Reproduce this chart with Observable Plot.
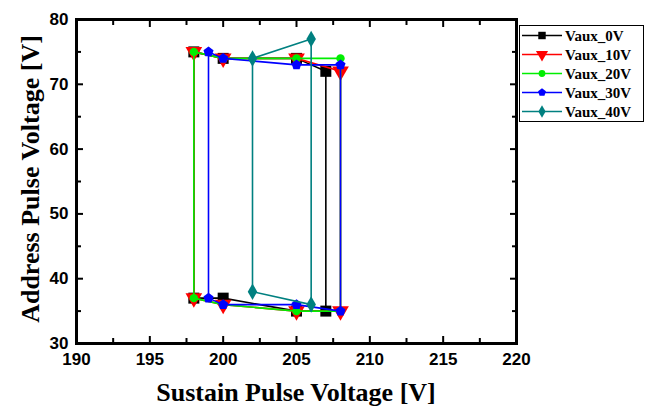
<!DOCTYPE html>
<html>
<head>
<meta charset="utf-8">
<script src="https://cdn.jsdelivr.net/npm/d3@7"></script>
<script src="https://cdn.jsdelivr.net/npm/@observablehq/plot@0.6"></script>
<style>
  body { margin: 0; background: #fff; }
  #chart { position: relative; width: 652px; height: 409px; }
</style>
</head>
<body>
<div id="chart"></div>
<script>
// ---- data ----
const seriesNames = ["Vaux_0V", "Vaux_10V", "Vaux_20V", "Vaux_30V", "Vaux_40V"];
const seriesColors = ["#000000", "#ff0000", "#00ee00", "#0000ff", "#008080"];

const sustainVaux0  = [198, 200, 205, 207, 207, 205, 200, 198];
const addressVaux0  = [75, 74, 74, 72, 35, 35, 37, 37];
const sustainVaux10 = [198, 200, 205, 208, 208, 205, 200, 198];
const addressVaux10 = [75, 74, 74, 72, 35, 35, 36, 37];
const sustainVaux20 = [198, 200, 205, 208, 208, 205, 200, 198];
const addressVaux20 = [75, 74, 74, 74, 35, 35, 36, 37];
const sustainVaux30 = [199, 200, 205, 208, 208, 205, 200, 199];
const addressVaux30 = [75, 74, 73, 73, 35, 36, 36, 37];
const sustainVaux40 = [202, 206, 206, 202];
const addressVaux40 = [74, 77, 36, 38];

const xMajorTicks = [190, 195, 200, 205, 210, 215, 220];
const xMinorTicks = [192.5, 197.5, 202.5, 207.5, 212.5, 217.5];
const yMajorTicks = [30, 40, 50, 60, 70, 80];
const yMinorTicks = [35, 45, 55, 65, 75];

const xTitle = "Sustain Pulse Voltage [V]";
const yTitle = "Address Pulse Voltage [V]";

// ---- build ----
const sustainAll = [sustainVaux0, sustainVaux10, sustainVaux20, sustainVaux30, sustainVaux40];
const addressAll = [addressVaux0, addressVaux10, addressVaux20, addressVaux30, addressVaux40];
const seriesData = seriesNames.map((name, i) =>
  sustainAll[i].map((s, j) => ({series: name, sustain: s, address: addressAll[i][j]})));

const pentagon = {
  draw(context, size) {
    const r = Math.sqrt(size / 2.3776);
    for (let k = 0; k < 5; ++k) {
      const a = -Math.PI / 2 + k * 2 * Math.PI / 5;
      const px = r * Math.cos(a), py = r * Math.sin(a);
      if (k === 0) context.moveTo(px, py); else context.lineTo(px, py);
    }
    context.closePath();
  }
};
const markerSpec = [
  {symbol: "square", r: 6.2, rotate: 0},
  {symbol: "triangle", r: 6.2, rotate: 180},
  {symbol: "circle", r: 4.2, rotate: 0},
  {symbol: pentagon, r: 4.6, rotate: 0},
  {symbol: "diamond", r: 5, rotate: 0}
];

const seriesMarks = [];
seriesData.forEach((rows, i) => {
  seriesMarks.push(Plot.line(rows, {x: "sustain", y: "address", curve: "linear-closed",
    stroke: seriesColors[i], strokeWidth: 1.6}));
  seriesMarks.push(Plot.dot(rows, {x: "sustain", y: "address", symbol: markerSpec[i].symbol,
    r: markerSpec[i].r, rotate: markerSpec[i].rotate, fill: seriesColors[i], stroke: "none"}));
});

// inward ticks on all four sides (negative tick size = inward)
const tickAxes = [];
for (const anchor of ["bottom", "top"]) {
  tickAxes.push(Plot.axisX(xMajorTicks, {anchor, tickSize: -7, fill: "none", label: null, stroke: "#000", strokeWidth: 2}));
  tickAxes.push(Plot.axisX(xMinorTicks, {anchor, tickSize: -5, fill: "none", label: null, stroke: "#000", strokeWidth: 2}));
}
for (const anchor of ["left", "right"]) {
  tickAxes.push(Plot.axisY(yMajorTicks, {anchor, tickSize: -7, fill: "none", label: null, stroke: "#000", strokeWidth: 2}));
  tickAxes.push(Plot.axisY(yMinorTicks, {anchor, tickSize: -5, fill: "none", label: null, stroke: "#000", strokeWidth: 2}));
}

const labelFont = {fontFamily: "'Liberation Sans', Arial, sans-serif", fontSize: 17, fontWeight: "bold", fill: "#000"};

const chart = Plot.plot({
  width: 652,
  height: 409,
  marginLeft: 76,
  marginRight: 136,
  marginTop: 19,
  marginBottom: 66,
  style: {background: "#fff", color: "#000"},
  x: {domain: [190, 220]},
  y: {domain: [30, 80]},
  marks: [
    ...seriesMarks,
    Plot.frame({stroke: "#000", strokeWidth: 3}),
    ...tickAxes,
    Plot.axisX(xMajorTicks, {anchor: "bottom", tickSize: 0, tickPadding: 9, label: null, ...labelFont}),
    Plot.axisY(yMajorTicks, {anchor: "left", tickSize: 0, tickPadding: 8, label: null, ...labelFont})
  ]
});
document.getElementById("chart").appendChild(chart);

// ---- titles & legend ----
const svg = d3.select(chart);
const serif = "'Liberation Serif', 'Times New Roman', serif";
svg.append("text").attr("x", 296).attr("y", 401).attr("text-anchor", "middle")
  .attr("font-family", serif).attr("font-size", 26).attr("font-weight", "bold").attr("fill", "#000").text(xTitle);
svg.append("text").attr("transform", "translate(39,179) rotate(-90)").attr("text-anchor", "middle")
  .attr("font-family", serif).attr("font-size", 26).attr("font-weight", "bold").attr("fill", "#000").text(yTitle);

const leg = svg.append("g");
leg.append("rect").attr("x", 519.5).attr("y", 25.5).attr("width", 124).attr("height", 96)
  .attr("fill", "#fff").attr("stroke", "#000").attr("stroke-width", 1);
const legSymbols = [d3.symbolSquare, d3.symbolTriangle, d3.symbolCircle, pentagon, d3.symbolDiamond];
const legSizes = [4.2, 4.5, 3.4, 3.6, 3.8];
seriesNames.forEach((name, i) => {
  const cy = 35.5 + i * 19;
  leg.append("line").attr("x1", 522).attr("x2", 562).attr("y1", cy).attr("y2", cy)
    .attr("stroke", seriesColors[i]).attr("stroke-width", 1.6);
  leg.append("path").attr("d", d3.symbol(legSymbols[i], Math.PI * legSizes[i] * legSizes[i])())
    .attr("transform", `translate(542,${cy}) rotate(${i === 1 ? 180 : 0})`)
    .attr("fill", seriesColors[i]);
  leg.append("text").attr("x", 565).attr("y", cy).attr("dy", "0.35em").attr("text-anchor", "start")
    .attr("font-family", serif).attr("font-size", 15).attr("font-weight", "bold").attr("fill", "#000").text(name);
});
</script>
</body>
</html>
